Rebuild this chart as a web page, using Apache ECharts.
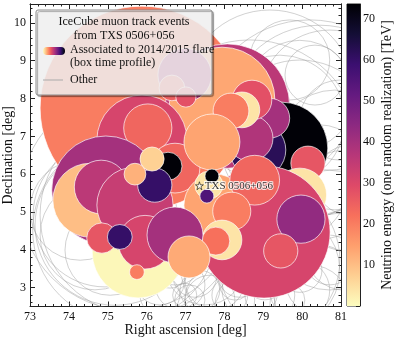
<!DOCTYPE html>
<html>
<head>
<meta charset="utf-8">
<script src="https://cdn.jsdelivr.net/npm/echarts@6/dist/echarts.min.js"></script>
<style>
  html, body { margin: 0; padding: 0; background: #fff; }
  #chart { width: 395px; height: 339px; }
</style>
</head>
<body>
<div id="chart"></div>
<script>
// flare events (drawn in this order), RA/Dec/radius in deg, energy in TeV
const flareRA     = [75.88, 78.08, 77.94, 76.98, 76.65, 77.01, 75.88, 76.03, 74.95, 74.54, 74.83, 75.78, 75.70, 75.96, 74.85, 75.31, 75.75, 76.73, 76.55, 76.21, 76.14, 75.70, 79.48, 78.86, 79.17, 78.66, 78.71, 78.45, 78.17, 80.15, 79.94, 79.02, 79.97, 79.45, 77.68, 77.76, 78.78, 78.19, 77.94, 77.78, 76.73, 77.09, 77.60, 77.68, 77.55];
const flareDec    = [7.75, 7.80, 7.96, 8.62, 8.28, 8.04, 6.90, 7.22, 5.58, 5.31, 5.66, 3.94, 5.18, 4.20, 4.31, 4.34, 3.41, 6.16, 6.21, 5.71, 6.40, 6.00, 6.69, 6.64, 7.48, 6.95, 7.96, 7.70, 7.67, 6.29, 5.45, 4.47, 4.81, 3.97, 6.85, 5.18, 5.84, 5.02, 4.26, 4.23, 4.39, 3.81, 5.71, 5.95, 5.42];
const flareRadius = [2.62, 1.60, 1.36, 0.69, 0.33, 0.26, 1.16, 0.62, 1.39, 0.95, 0.69, 1.18, 0.98, 0.69, 0.39, 0.32, 0.19, 0.64, 0.36, 0.44, 0.31, 0.28, 1.18, 0.72, 0.51, 0.59, 0.51, 0.46, 0.46, 0.44, 0.69, 1.70, 0.62, 0.44, 0.72, 0.80, 0.64, 0.49, 0.51, 0.36, 0.72, 0.54, 0.36, 0.18, 0.18];
const flareEnergy = [20, 36, 13.5, 38, 25, 28, 31, 24, 40, 10, 36, 1, 34, 31, 27, 60, 20, 24, 73, 60, 7, 12, 73, 62, 40, 38, 28, 4, 20, 27, 4, 31, 43, 27, 14, 14, 24, 20, 4, 22, 40, 13, 4, 73, 55];

// other events
const otherRA     = [80.20, 80.46, 79.94, 80.71, 80.84, 79.94, 80.46, 80.97, 79.68, 80.33, 79.43, 81.10, 80.71, 75.19, 75.44, 74.93, 75.83, 74.67, 75.06, 74.29, 75.57, 76.86, 77.37, 77.76, 78.14, 78.66, 77.11, 76.60, 78.40, 79.17, 79.94, 80.46, 76.34, 77.50, 78.91, 79.43, 77.88, 76.73, 80.71, 80.20, 79.17, 78.66,
                     76.98, 78.27, 77.63, 79.04, 79.68, 78.53, 77.24, 78.01, 76.34, 79.94, 81.23, 81.10];
const otherDec    = [7.17, 7.43, 6.90, 7.96, 6.64, 8.09, 6.11, 7.43, 9.02, 8.62, 7.43, 5.31, 4.52, 4.65, 4.52, 4.92, 4.92, 4.39, 3.99, 5.05, 5.31, 3.07, 2.93, 3.20, 2.80, 2.93, 2.67, 3.46, 3.33, 2.80, 2.93, 3.20, 2.80, 3.60, 3.73, 3.46, 2.67, 3.86, 3.73, 2.54, 8.09, 6.64,
                     2.80, 3.07, 2.67, 3.20, 2.67, 2.54, 3.33, 3.46, 3.20, 3.46, 5.84, 3.99];
const otherRadius = [2.83, 2.44, 2.06, 1.80, 1.54, 1.41, 1.16, 1.03, 1.03, 0.77, 1.67, 1.29, 1.54, 2.06, 2.37, 1.85, 2.57, 1.41, 1.16, 1.29, 2.83, 0.64, 0.51, 0.77, 0.46, 0.72, 0.39, 0.46, 0.57, 0.64, 0.77, 0.90, 0.51, 1.03, 2.06, 1.54, 0.90, 0.77, 0.64, 1.03, 2.19, 2.83,
                     0.31, 0.39, 0.64, 0.51, 0.39, 0.77, 0.57, 0.31, 0.64, 0.57, 0.90, 1.03];

const source = { name: 'TXS 0506+056', ra: 77.358, dec: 5.693 };

const raRange = [73, 81];
const decRange = [2.5, 10.5];
const decTicks = [3, 4, 5, 6, 7, 8, 9, 10];
const energyMax = 73.5;

const magma = ['#000004', '#140e36', '#3b0f70', '#641a80', '#8c2981', '#b73779',
               '#de4968', '#f7705c', '#fe9f6d', '#fecf92', '#fcfdbf'];

const decMinor = [];
for (let v = 2.6; v < 10.45; v += 0.2) {
  const r = Math.round(v * 10) / 10;
  if (Math.abs(r - Math.round(r)) > 0.01) decMinor.push(r);
}

const flareData = flareRA.map((ra, i) => [ra, flareDec[i], flareRadius[i], flareEnergy[i]]);
const otherData = otherRA.map((ra, i) => [ra, otherDec[i], otherRadius[i]]);

var myChart = echarts.init(document.getElementById('chart'));

const FONT = 'Liberation Serif';
const axisCol = '#222';

function circleItem(fill, stroke, lw) {
  return function (params, api) {
    var c = api.coord([api.value(0), api.value(1)]);
    var r = api.size([api.value(2), 0])[0];
    return {
      type: 'circle',
      shape: { cx: c[0], cy: c[1], r: r },
      style: { fill: fill === 'visual' ? api.visual('color') : fill, stroke: stroke, lineWidth: lw }
    };
  };
}

function xAx(pos, labels) {
  return {
    type: 'value', gridIndex: 0, position: pos,
    min: raRange[0], max: raRange[1], interval: 1,
    axisLine: { show: true, lineStyle: { color: axisCol, width: 1 } },
    axisTick: { show: true, inside: true, length: 5, lineStyle: { color: axisCol } },
    minorTick: { show: true, splitNumber: 5, length: 2.5, lineStyle: { color: axisCol } },
    axisLabel: { show: labels, margin: 4, color: '#111', fontFamily: FONT, fontSize: 12 },
    splitLine: { show: false },
    name: labels ? 'Right ascension [deg]' : '',
    nameLocation: 'middle', nameGap: 17, nameMoveOverlap: false,
    nameTextStyle: { fontFamily: FONT, fontSize: 14, color: '#111' }
  };
}

function yAx(pos, values, len, labels) {
  return {
    type: 'value', gridIndex: 0, position: pos,
    min: decRange[0], max: decRange[1],
    axisLine: { show: true, lineStyle: { color: axisCol, width: 1 } },
    axisTick: { show: true, inside: true, length: len, customValues: values, lineStyle: { color: axisCol } },
    axisLabel: { show: labels, customValues: values, margin: 4, color: '#111', fontFamily: FONT, fontSize: 12 },
    splitLine: { show: false },
    name: labels ? 'Declination [deg]' : '',
    nameLocation: 'middle', nameGap: 15, nameMoveOverlap: false,
    nameTextStyle: { fontFamily: FONT, fontSize: 14, color: '#111' }
  };
}

var option = {
  animation: false,
  grid: [
    { left: 30, right: 54, top: 4, bottom: 32.5, outerBoundsMode: 'none', containLabel: false },
    { left: 347, width: 13, top: 4, height: 302, show: true, borderColor: axisCol, borderWidth: 1,
      outerBoundsMode: 'none', containLabel: false }
  ],
  xAxis: [
    xAx('bottom', true),
    xAx('top', false),
    { type: 'category', gridIndex: 1, data: ['E'], show: false }
  ],
  yAxis: [
    yAx('left', decTicks, 5, true),
    yAx('left', decMinor, 2.5, false),
    yAx('right', decTicks, 5, false),
    yAx('right', decMinor, 2.5, false),
    {
      type: 'value', gridIndex: 1, position: 'right',
      min: 0, max: energyMax, interval: 10,
      axisLine: { show: true, lineStyle: { color: axisCol } },
      axisTick: { show: true, inside: true, length: 4, lineStyle: { color: axisCol } },
      minorTick: { show: true, splitNumber: 5, length: 2, lineStyle: { color: axisCol } },
      axisLabel: { margin: 3, color: '#111', fontFamily: FONT, fontSize: 12, showMaxLabel: false,
                   formatter: function (v) { return (v === 0 || v % 10 !== 0) ? '' : v; } },
      splitLine: { show: false },
      name: 'Neutrino energy (one random realization) [TeV]',
      nameLocation: 'middle', nameGap: 20, nameRotate: 90, nameMoveOverlap: false,
      nameTextStyle: { fontFamily: FONT, fontSize: 14, color: '#111' }
    }
  ],
  visualMap: {
    show: false, type: 'continuous', seriesIndex: 1, dimension: 3,
    min: 0, max: energyMax,
    inRange: { color: magma.slice().reverse() }
  },
  series: [
    {
      type: 'custom', xAxisIndex: 0, yAxisIndex: 0, z: 1, clip: true,
      renderItem: circleItem('none', 'rgba(150,150,150,0.55)', 0.8),
      data: otherData
    },
    {
      type: 'custom', xAxisIndex: 0, yAxisIndex: 0, z: 2, clip: true,
      renderItem: circleItem('visual', 'rgba(255,255,255,0.85)', 0.8),
      data: flareData
    },
    {
      type: 'scatter', xAxisIndex: 0, yAxisIndex: 0, z: 5,
      symbol: 'path://M0,-1L0.2245,-0.309L0.951,-0.309L0.363,0.118L0.588,0.809L0,0.382L-0.588,0.809L-0.363,0.118L-0.951,-0.309L-0.2245,-0.309Z',
      symbolSize: 8,
      itemStyle: { color: '#fff', borderColor: '#111', borderWidth: 0.8 },
      label: {
        show: true, position: 'right', distance: 1, formatter: source.name,
        fontFamily: FONT, fontSize: 11, color: '#000',
        textBorderColor: '#fff', textBorderWidth: 2
      },
      data: [[source.ra, source.dec]]
    },
    {
      type: 'bar', xAxisIndex: 2, yAxisIndex: 4, barWidth: '100%', silent: true,
      itemStyle: { color: new echarts.graphic.LinearGradient(0, 0, 0, 1,
        magma.map((c, i) => ({ offset: i / (magma.length - 1), color: c }))) },
      data: [energyMax]
    }
  ],
  graphic: [
    {
      type: 'rect', z: 50,
      shape: { x: 36, y: 10, width: 176, height: 85, r: 2 },
      style: { fill: 'rgba(255,255,255,0.8)', stroke: '#8a8a8a', lineWidth: 1,
               shadowColor: 'rgba(0,0,0,0.35)', shadowOffsetX: 1.5, shadowOffsetY: 1.5, shadowBlur: 1 }
    },
    { type: 'text', z: 51, x: 124, y: 22,
      style: { text: 'IceCube muon track events', fontFamily: FONT, fontSize: 12, fill: '#111', align: 'center', verticalAlign: 'middle' } },
    { type: 'text', z: 51, x: 124, y: 36,
      style: { text: 'from TXS 0506+056', fontFamily: FONT, fontSize: 12, fill: '#111', align: 'center', verticalAlign: 'middle' } },
    { type: 'rect', z: 51,
      shape: { x: 43, y: 47, width: 22, height: 8, r: 4 },
      style: { fill: new echarts.graphic.LinearGradient(0, 0, 1, 0,
        magma.slice().reverse().map((c, i) => ({ offset: i / (magma.length - 1), color: c }))) } },
    { type: 'text', z: 51, x: 70, y: 50,
      style: { text: 'Associated to 2014/2015 flare', fontFamily: FONT, fontSize: 12, fill: '#111', verticalAlign: 'middle' } },
    { type: 'text', z: 51, x: 70, y: 63,
      style: { text: '(box time profile)', fontFamily: FONT, fontSize: 12, fill: '#111', verticalAlign: 'middle' } },
    { type: 'line', z: 51,
      shape: { x1: 43, y1: 80, x2: 63, y2: 80 },
      style: { stroke: '#aaa', lineWidth: 1 } },
    { type: 'text', z: 51, x: 70, y: 80,
      style: { text: 'Other', fontFamily: FONT, fontSize: 12, fill: '#111', verticalAlign: 'middle' } }
  ]
};

myChart.setOption(option);
</script>
</body>
</html>
